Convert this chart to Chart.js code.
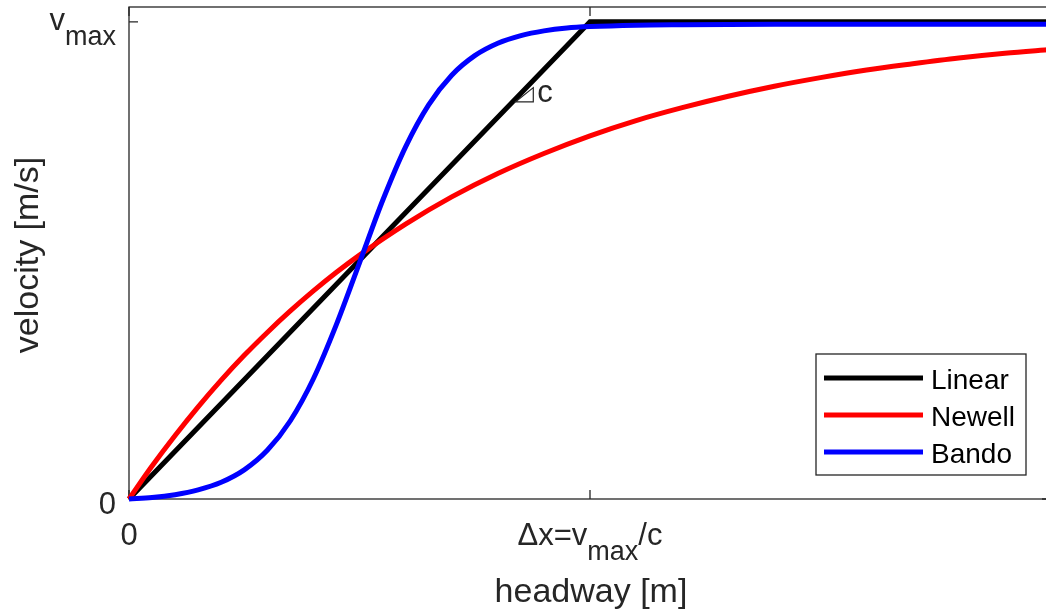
<!DOCTYPE html>
<html>
<head>
<meta charset="utf-8">
<script src="https://cdn.jsdelivr.net/npm/chart.js@4.4.0/dist/chart.umd.min.js"></script>
<style>
  html, body { margin: 0; padding: 0; background: #fff; overflow: hidden; }
  #wrap { width: 1046px; height: 615px; overflow: hidden; }
</style>
</head>
<body>
<div id="wrap"><canvas id="ovChart" width="1060" height="615"></canvas></div>
<script>
// headway in units of dx = vmax/c, velocity in units of vmax
var linearX = [0, 1, 2];
var linearV = [0, 1, 1];

var newellX = [0, 0.05, 0.1, 0.15, 0.2, 0.25, 0.3, 0.35, 0.4, 0.45, 0.5, 0.6, 0.7, 0.8, 0.9, 1.0,
               1.1, 1.2, 1.3, 1.4, 1.5, 1.6, 1.7, 1.8, 1.9, 2.0];
var newellV = [0, 0.069, 0.133, 0.193, 0.249, 0.301, 0.349, 0.394, 0.436, 0.475, 0.511, 0.576, 0.633, 0.682, 0.724, 0.761,
               0.793, 0.820, 0.844, 0.865, 0.883, 0.899, 0.912, 0.924, 0.934, 0.942];

var bandoX = [0, 0.05, 0.1, 0.15, 0.2, 0.25, 0.3, 0.35, 0.4, 0.45, 0.5, 0.55, 0.6, 0.65, 0.7, 0.75,
              0.8, 0.85, 0.9, 0.95, 1.0, 1.1, 1.2, 1.4, 1.7, 2.0];
var bandoV = [0, 0.003, 0.009, 0.019, 0.035, 0.061, 0.102, 0.164, 0.252, 0.366, 0.495, 0.625, 0.738, 0.826, 0.888, 0.929,
              0.955, 0.971, 0.981, 0.987, 0.990, 0.993, 0.994, 0.995, 0.995, 0.995];

var seriesNames = ['Linear', 'Newell', 'Bando'];
var seriesColors = ['#000000', '#ff0000', '#0000ff'];

var xTickValues = [0, 1];
var xTickLabels = ['0', '\u0394x=v_{max}/c'];
var yTickValues = [0, 1];
var yTickLabels = ['0', 'v_{max}'];

var FONT = '"Liberation Sans", Arial, Helvetica, sans-serif';
var AXIS_COLOR = '#262626';

function toPoints(xs, ys) {
  return xs.map(function(x, i) { return { x: x, y: ys[i] }; });
}

// split "v_{max}" style strings into normal / subscript pieces
function parseSub(str) {
  var parts = [];
  var re = /_\{([^}]*)\}/g;
  var last = 0, m;
  while ((m = re.exec(str)) !== null) {
    if (m.index > last) parts.push({ t: str.slice(last, m.index), sub: false });
    parts.push({ t: m[1], sub: true });
    last = re.lastIndex;
  }
  if (last < str.length) parts.push({ t: str.slice(last), sub: false });
  return parts;
}

function drawRich(ctx, str, x, y, align, size) {
  var parts = parseSub(str);
  var subSize = Math.round(size * 0.88);
  var total = 0;
  parts.forEach(function(p) {
    ctx.font = (p.sub ? subSize : size) + 'px ' + FONT;
    p.w = ctx.measureText(p.t).width;
    total += p.w;
  });
  var cx = x;
  if (align === 'center') cx = x - total / 2;
  else if (align === 'right') cx = x - total;
  ctx.textAlign = 'left';
  ctx.textBaseline = 'alphabetic';
  parts.forEach(function(p) {
    ctx.font = (p.sub ? subSize : size) + 'px ' + FONT;
    ctx.fillText(p.t, cx, p.sub ? y + Math.round(size * 0.48) : y);
    cx += p.w;
  });
}

var axesPlugin = {
  id: 'matlabAxes',
  beforeDatasetsDraw: function(chart) {
    var ctx = chart.ctx, a = chart.chartArea;
    var xs = chart.scales.x, ys = chart.scales.y;
    var tick = 9;
    ctx.save();
    ctx.strokeStyle = AXIS_COLOR;
    ctx.lineWidth = 1.3;
    ctx.strokeRect(a.left, a.top, a.right - a.left, a.bottom - a.top);
    ctx.beginPath();
    xTickValues.forEach(function(v) {
      var px = xs.getPixelForValue(v);
      ctx.moveTo(px, a.bottom); ctx.lineTo(px, a.bottom - tick);
      ctx.moveTo(px, a.top); ctx.lineTo(px, a.top + tick);
    });
    yTickValues.forEach(function(v) {
      var py = ys.getPixelForValue(v);
      ctx.moveTo(a.left, py); ctx.lineTo(a.left + tick, py);
      ctx.moveTo(a.right, py); ctx.lineTo(a.right - tick, py);
    });
    ctx.stroke();
    ctx.restore();
  },
  afterDatasetsDraw: function(chart) {
    var ctx = chart.ctx, a = chart.chartArea;
    var xs = chart.scales.x, ys = chart.scales.y;
    ctx.save();
    ctx.fillStyle = AXIS_COLOR;

    // tick labels
    xTickValues.forEach(function(v, i) {
      drawRich(ctx, xTickLabels[i], xs.getPixelForValue(v), a.bottom + 46, 'center', 31);
    });
    yTickValues.forEach(function(v, i) {
      var py = ys.getPixelForValue(v);
      var hasSub = yTickLabels[i].indexOf('_{') >= 0;
      drawRich(ctx, yTickLabels[i], a.left - 13, py + (hasSub ? 8 : 15), 'right', 31);
    });

    // axis titles
    ctx.font = '34px ' + FONT;
    ctx.textAlign = 'center';
    ctx.textBaseline = 'alphabetic';
    ctx.fillText('headway [m]', 591, 602);
    ctx.save();
    ctx.translate(38, (a.top + a.bottom) / 2 + 2);
    ctx.rotate(-Math.PI / 2);
    ctx.fillText('velocity [m/s]', 0, 0);
    ctx.restore();

    // slope marker on the linear branch
    var bx0 = xs.getPixelForValue(0.838), bx1 = xs.getPixelForValue(0.877);
    var by = ys.getPixelForValue(0.832), ty = ys.getPixelForValue(0.862);
    ctx.strokeStyle = AXIS_COLOR;
    ctx.lineWidth = 1.2;
    ctx.beginPath();
    ctx.moveTo(bx0, by);
    ctx.lineTo(bx1, by);
    ctx.lineTo(bx1, ty);
    ctx.closePath();
    ctx.stroke();
    ctx.font = '31px ' + FONT;
    ctx.textAlign = 'left';
    ctx.fillText('c', bx1 + 4, by);

    // legend
    var lx = 816, ly = 354, lw = 210, lh = 121;
    ctx.fillStyle = '#ffffff';
    ctx.fillRect(lx, ly, lw, lh);
    ctx.strokeStyle = AXIS_COLOR;
    ctx.lineWidth = 1.3;
    ctx.strokeRect(lx, ly, lw, lh);
    var rows = [378, 415, 452];
    chart.data.datasets.forEach(function(ds, i) {
      ctx.strokeStyle = ds.borderColor;
      ctx.lineWidth = 5;
      ctx.beginPath();
      ctx.moveTo(824, rows[i]);
      ctx.lineTo(923, rows[i]);
      ctx.stroke();
      ctx.fillStyle = '#000000';
      ctx.font = '28px ' + FONT;
      ctx.textAlign = 'left';
      ctx.fillText(ds.label, 931, rows[i] + 11);
    });
    ctx.restore();
  }
};

var ctx = document.getElementById('ovChart').getContext('2d');
var chart = new Chart(ctx, {
  type: 'line',
  data: {
    datasets: [
      { label: seriesNames[0], data: toPoints(linearX, linearV), borderColor: seriesColors[0],
        borderWidth: 5, pointRadius: 0, tension: 0, fill: false, clip: false, order: 3 },
      { label: seriesNames[1], data: toPoints(newellX, newellV), borderColor: seriesColors[1],
        borderWidth: 5, pointRadius: 0, cubicInterpolationMode: 'monotone', fill: false, clip: false, order: 2 },
      { label: seriesNames[2], data: toPoints(bandoX, bandoV), borderColor: seriesColors[2],
        borderWidth: 5, pointRadius: 0, cubicInterpolationMode: 'monotone', fill: false, clip: false, order: 1 }
    ]
  },
  options: {
    responsive: false,
    animation: false,
    devicePixelRatio: 1,
    layout: { padding: { left: 129, right: 9, top: 7, bottom: 116 } },
    plugins: {
      legend: { display: false },
      tooltip: { enabled: false }
    },
    scales: {
      x: { type: 'linear', min: 0, max: 2, display: false },
      y: { type: 'linear', min: 0, max: 1.031, display: false }
    }
  },
  plugins: [axesPlugin]
});
</script>
</body>
</html>
